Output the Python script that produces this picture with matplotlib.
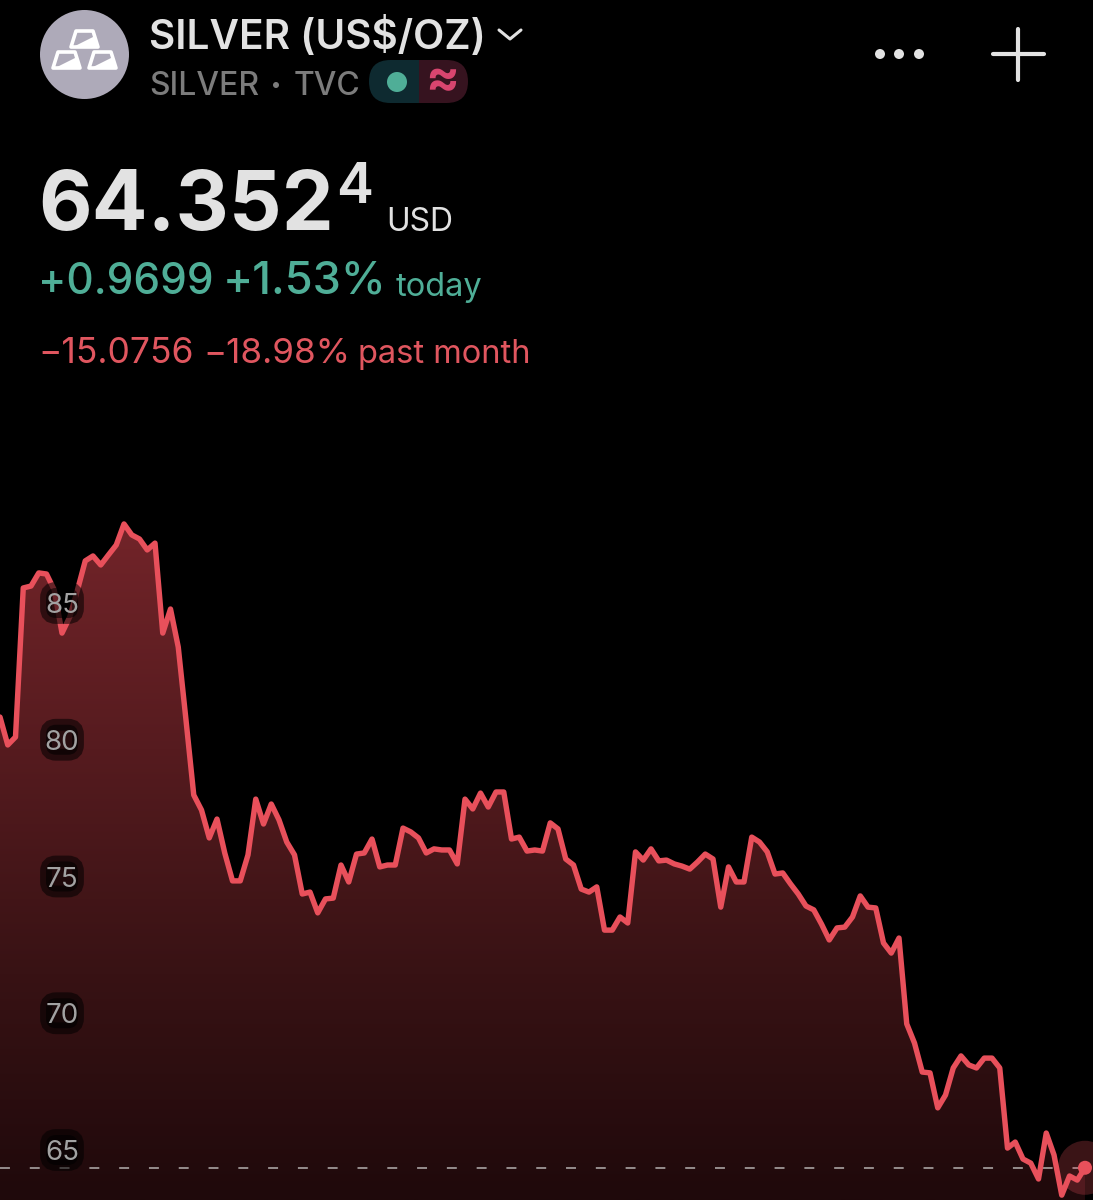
import numpy as np
import matplotlib
matplotlib.use('Agg')
from matplotlib import pyplot as plt
from matplotlib.colors import LinearSegmentedColormap
from matplotlib.patches import Circle, FancyBboxPatch, Polygon, Rectangle

plt.rcParams['font.family'] = ['Inter', 'DejaVu Sans']

# silver price
prices = [
    80.83, 79.81, 80.10, 85.55, 85.62, 86.10, 86.06, 85.48, 83.90, 84.49,
    85.48, 86.54, 86.72, 86.39, 86.76, 87.12, 87.89, 87.49, 87.34, 86.94,
    87.19, 83.90, 84.78, 83.39, 80.72, 77.98, 77.43, 76.41, 77.10, 75.86,
    74.84, 74.84, 75.79, 77.83, 76.92, 77.65, 77.07, 76.26, 75.79, 74.36,
    74.43, 73.67, 74.18, 74.21, 75.42, 74.80, 75.82, 75.86, 76.37, 75.35,
    75.42, 75.42, 76.77, 76.63, 76.41, 75.86, 76.01, 75.97, 75.97, 75.46,
    77.83, 77.47, 78.05, 77.54, 78.09, 78.09, 76.37, 76.44, 75.93, 75.97,
    75.93, 76.96, 76.74, 75.64, 75.42, 74.54, 74.43, 74.62, 73.04, 73.04,
    73.52, 73.30, 75.90, 75.60, 76.01, 75.57, 75.60, 75.46, 75.38, 75.27,
    75.53, 75.82, 75.64, 73.88, 75.35, 74.80, 74.80, 76.44, 76.26, 75.90,
    75.09, 75.13, 74.73, 74.36, 73.92, 73.78, 73.26, 72.68, 73.12, 73.15,
    73.52, 74.29, 73.88, 73.85, 72.57, 72.20, 72.75, 69.61, 68.91, 67.85,
    67.82, 66.54, 67.01, 68.00, 68.44, 68.11, 68.00, 68.36, 68.36, 68.00,
    65.07, 65.29, 64.67, 64.52, 63.94, 65.62, 64.82, 63.35, 64.05, 63.90,
    64.35,
]
y_ticks = [85, 80, 75, 70, 65]
last_price = 64.3524

BG = '#000000'
LINE = '#e8505b'
GREEN = '#4fae97'
RED = '#e0565f'
TEXT = '#e2e2e2'
GREY = '#7c7c7c'

W, H = 1093, 1200
fig = plt.figure(figsize=(W / 100, H / 100), dpi=100, facecolor=BG)

ax = fig.add_axes([0, 0, 1, 1], facecolor=BG)
ax.set_xlim(0, W / 7.75)
ax.set_ylim(65 - 50 / 27.35, 65 + 1150 / 27.35)
ax.axis('off')

x = np.arange(len(prices))
y = np.array(prices)

# gradient area below the line
cmap = LinearSegmentedColormap.from_list('area', ['#1f090b', '#381214', '#561b1f', '#722429'])
grad = ax.imshow(np.linspace(1, 0, 256).reshape(-1, 1), aspect='auto', cmap=cmap, zorder=1,
                 extent=[0, W / 7.75, ax.get_ylim()[0], y.max()])
ax.set_ylim(65 - 50 / 27.35, 65 + 1150 / 27.35)
ax.set_xlim(0, W / 7.75)
area = ax.fill_between(x, y, ax.get_ylim()[0], color='none')
grad.set_clip_path(area.get_paths()[0], transform=ax.transData)

ax.axhline(last_price, color='#b5b0b0', lw=1.1, zorder=2, dashes=(6.5, 13), dash_capstyle='butt')
ax.plot(x, y, color=LINE, lw=3.9, zorder=3, solid_joinstyle='round', solid_capstyle='round')

# overlay in pixel coordinates for the app chrome
ui = fig.add_axes([0, 0, 1, 1], facecolor='none')
ui.set_xlim(0, W)
ui.set_ylim(H, 0)
ui.axis('off')


def price_to_px(value):
    return H - ax.transData.transform((0, value))[1]


# pulse on the last point
last_px = ((len(prices) - 1) * 7.75, price_to_px(prices[-1]))
ui.add_patch(Circle(last_px, 27, color=LINE, alpha=0.25, lw=0, zorder=4))
ui.add_patch(Circle(last_px, 7, color=LINE, lw=0, zorder=5))

# price labels
for tick in y_ticks:
    py = price_to_px(tick)
    ui.add_patch(FancyBboxPatch((46, py - 15), 32, 30, boxstyle='round,pad=0,rounding_size=10',
                                mutation_aspect=1, fc=(0, 0, 0, 0.55), ec=(0, 0, 0, 0.55), lw=8.5, zorder=6))
    ui.text(62, py, str(tick), color='#a2a2a2', fontsize=20, ha='center', va='center_baseline', zorder=7)

# icon
ui.add_patch(Circle((84.5, 54.5), 44.5, color='#aeaab9', lw=0))
for bx, by in [(71, 31), (53, 52), (89, 52)]:
    ui.add_patch(Polygon([(bx + 5, by), (bx + 22, by), (bx + 27, by + 16), (bx, by + 16)], closed=True,
                         fc='#aeaab9', ec='white', lw=2.6, joinstyle='round'))
    ui.add_patch(Polygon([(bx + 2, by + 16), (bx + 24, by + 5), (bx + 26, by + 16)], closed=True,
                         fc='white', ec='none'))

# header text
ui.text(149, 49, 'SILVER (US$/OZ)', color=TEXT, fontsize=29.2, fontweight='semibold', va='baseline')
ui.plot([499, 510, 521], [30, 39, 30], color=TEXT, lw=2.2, solid_capstyle='round', solid_joinstyle='round')
ui.text(149, 95, 'SILVER', color=GREY, fontsize=23, fontweight='medium', va='baseline')
ui.add_patch(Circle((276, 85), 3, color=GREY, lw=0))
ui.text(294, 95, 'TVC', color=GREY, fontsize=23, fontweight='medium', va='baseline')

# market status pill
pill = FancyBboxPatch((369, 60), 99, 43, boxstyle='round,pad=0,rounding_size=21.5', fc='none', ec='none')
ui.add_patch(pill)
left = Rectangle((369, 60), 50, 43, fc='#0e2a30', ec='none')
right = Rectangle((419, 60), 49, 43, fc='#36131f', ec='none')
ui.add_patch(left)
ui.add_patch(right)
left.set_clip_path(pill)
right.set_clip_path(pill)
ui.add_patch(Circle((397, 82), 10, color=GREEN, lw=0))
ui.text(442, 81, '≈', color='#d8456f', fontsize=36, fontweight='bold', ha='center', va='center')

# price block
ui.text(38.5, 230, '64.352', color=TEXT, fontsize=59.5, fontweight='bold', va='baseline')
ui.text(336, 203, '4', color=TEXT, fontsize=40, fontweight='semibold', va='baseline')
ui.text(386, 231, 'USD', color=TEXT, fontsize=23, va='baseline')
ui.text(38, 294, '+0.9699', color=GREEN, fontsize=30.5, fontweight='medium', va='baseline')
ui.text(222.5, 294, '+1.53%', color=GREEN, fontsize=32.5, fontweight='medium', va='baseline')
ui.text(396, 296, 'today', color=GREEN, fontsize=23.5, va='baseline')
ui.text(38, 363, '−15.0756', color=RED, fontsize=25.5, va='baseline')
ui.text(203, 363, '−18.98%', color=RED, fontsize=25.2, va='baseline')
ui.text(358, 363, 'past month', color=RED, fontsize=23.5, va='baseline')

# menu and add buttons
for dot_x in [880, 899, 919]:
    ui.add_patch(Circle((dot_x, 54), 5, color='#e3e3e3', lw=0))
ui.plot([993, 1044], [54, 54], color='#e3e3e3', lw=3, solid_capstyle='round')
ui.plot([1018, 1018], [29, 80], color='#e3e3e3', lw=3, solid_capstyle='round')

fig.savefig('out.png', dpi=100, facecolor=BG)
